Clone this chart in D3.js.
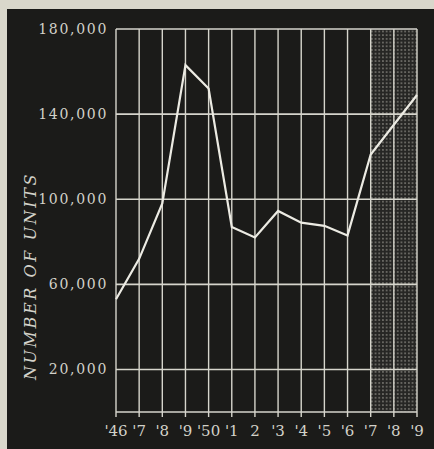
<!DOCTYPE html>
<html>
<head>
<meta charset="utf-8">
<script src="https://cdn.jsdelivr.net/npm/d3@7"></script>
<style>
  html, body { margin: 0; padding: 0; background: #d9d7cb; }
  svg { display: block; }
</style>
</head>
<body>
<svg id="chart" width="434" height="449"></svg>
<script>
// ---- data ----
const years = [1946, 1947, 1948, 1949, 1950, 1951, 1952, 1953, 1954, 1955, 1956, 1957, 1958, 1959];
const yearLabels = ["'46", "'7", "'8", "'9", "'50", "'1", "2", "'3", "'4", "'5", "'6", "'7", "'8", "'9"];
const units = [53000, 72000, 98000, 163000, 152000, 87000, 82000, 94500, 89000, 87500, 83000, 121000, 135000, 149000];
const yTicks = [20000, 60000, 100000, 140000, 180000];
const yGrid = [0, 20000, 60000, 100000, 140000, 180000];
const projectedYears = [1957, 1959];
const yTitle = "NUMBER OF UNITS";

// ---- layout ----
const W = 434, H = 449;
const svg = d3.select("#chart");
const plotLeft = 116, plotRight = 417, plotTop = 29, plotBottom = 412;

svg.append("rect").attr("x", 0).attr("y", 0).attr("width", W).attr("height", H).attr("fill", "#d9d7cb");
svg.append("rect").attr("x", 7).attr("y", 9).attr("width", W - 7).attr("height", H - 9).attr("fill", "#1b1b19");

const x = d3.scaleLinear().domain([years[0], years[years.length - 1]]).range([plotLeft, plotRight]);
const y = d3.scaleLinear().domain([0, 180000]).range([plotBottom, plotTop]);

// dotted pattern for projected years
const defs = svg.append("defs");
const pat = defs.append("pattern").attr("id", "dots").attr("patternUnits", "userSpaceOnUse")
  .attr("width", 3.7).attr("height", 3.7);
pat.append("rect").attr("width", 3.7).attr("height", 3.7).attr("fill", "#262624");
pat.append("circle").attr("cx", 1.85).attr("cy", 1.85).attr("r", 0.9).attr("fill", "#7c7b75");

svg.append("rect")
  .attr("x", x(projectedYears[0])).attr("y", y(180000))
  .attr("width", x(projectedYears[1]) - x(projectedYears[0]))
  .attr("height", y(0) - y(180000))
  .attr("fill", "url(#dots)");

const gridColor = "#d6d5cc";

// vertical grid lines (one per year), extending slightly below the baseline
svg.append("g").selectAll("line").data(years).join("line")
  .attr("x1", d => x(d)).attr("x2", d => x(d))
  .attr("y1", y(180000)).attr("y2", y(0) + 5)
  .attr("stroke", gridColor).attr("stroke-width", 1.4);

// horizontal grid lines
svg.append("g").selectAll("line").data(yGrid).join("line")
  .attr("x1", plotLeft).attr("x2", plotRight)
  .attr("y1", d => y(d)).attr("y2", d => y(d))
  .attr("stroke", gridColor).attr("stroke-width", 1.6);

// y tick labels
svg.append("g").selectAll("text").data(yTicks).join("text")
  .attr("x", 108).attr("y", d => y(d))
  .attr("dy", "0.36em")
  .attr("text-anchor", "end")
  .attr("font-family", "DejaVu Serif")
  .attr("font-size", 14)
  .attr("letter-spacing", 1.7)
  .attr("fill", "#d3d2c9")
  .text(d => d3.format(",")(d));

// x tick labels
svg.append("g").selectAll("text").data(years).join("text")
  .attr("x", d => x(d))
  .attr("y", 436)
  .attr("text-anchor", "middle")
  .attr("font-family", "DejaVu Serif")
  .attr("font-size", 15)
  .attr("fill", "#d3d2c9")
  .text((d, i) => yearLabels[i]);

// y title
svg.append("text")
  .attr("transform", "translate(36,276) rotate(-90)")
  .attr("text-anchor", "middle")
  .attr("font-family", "DejaVu Serif")
  .attr("font-style", "italic")
  .attr("font-size", 16)
  .attr("letter-spacing", 2.6)
  .attr("fill", "#d3d2c9")
  .text(yTitle);

// data line
const line = d3.line().x((d, i) => x(years[i])).y(d => y(d));
svg.append("path")
  .datum(units)
  .attr("d", line)
  .attr("fill", "none")
  .attr("stroke", "#ecebe3")
  .attr("stroke-width", 2.2)
  .attr("stroke-linejoin", "miter");
</script>
</body>
</html>
